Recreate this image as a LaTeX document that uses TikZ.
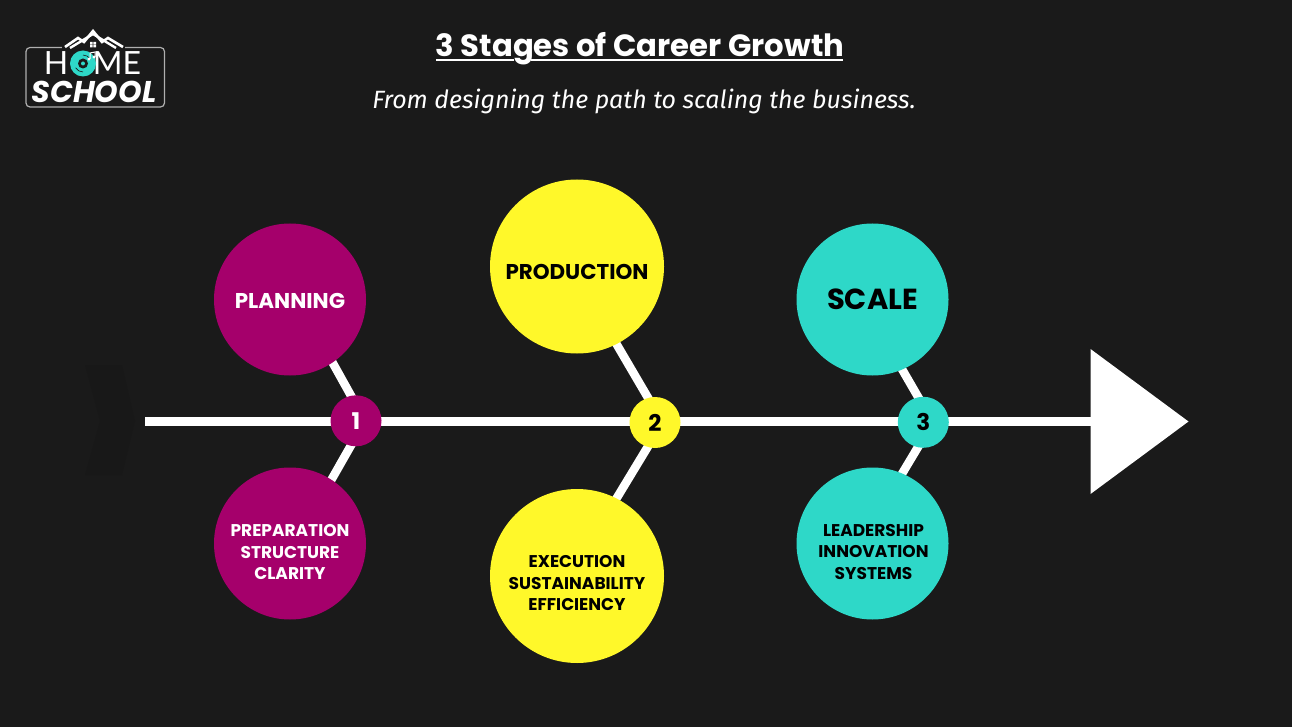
\documentclass[tikz,border=0pt]{standalone}
\usepackage{fontspec}
\setmainfont{Poppins}
\newfontfamily\subfont{Fira Sans}
\newfontfamily\logofont{Lato}
\usetikzlibrary{calc}
\pgfdeclarelayer{back}
\pgfdeclarelayer{links}
\pgfsetlayers{back,links,main}
\definecolor{bgc}{HTML}{1A1A1A}
\definecolor{bgd}{HTML}{181818}
\definecolor{mag}{HTML}{A5006B}
\definecolor{yel}{HTML}{FFF82A}
\definecolor{tea}{HTML}{2ED8C8}
\tikzset{
  bigc/.style={circle,inner sep=0pt,minimum size=#1},
  lab/.style={inner sep=0pt,align=center,font=\fontsize{17}{21.6}\selectfont\bfseries},
  head/.style={inner sep=0pt,font=\fontsize{21.4}{25}\selectfont\bfseries},
  conn/.style={white,line width=8.5pt,shorten <=-5pt},
  numc/.style={circle,inner sep=0pt,minimum size=51pt,font=\fontsize{23}{24}\selectfont\bfseries},
  txt/.style={text=white,inner sep=0pt}
}
\begin{document}
\begin{tikzpicture}[x=1pt,y=-1pt]
\begin{pgfonlayer}{back}
\fill[bgc] (0,0) rectangle (1292,727);
\fill[bgd] (85,365) -- (122,365) -- (135,421) -- (122,475) -- (85,475) -- (100,421) -- cycle;
\end{pgfonlayer}
\useasboundingbox (0,0) rectangle (1292,727);
% titles
\node[txt,font=\fontsize{30.7}{36}\selectfont\bfseries] (title) at (640,49) {3 Stages of Career Growth};
\draw[white,line width=2pt] (436,60) -- (514,60) (531,60) -- (843,60);
\node[txt,font=\subfont\itshape\fontsize{25}{30}\selectfont] (sub) at (644,101.5) {From designing the path to scaling the business.};
% logo
\draw[white!65!bgc,line width=1.2pt,rounded corners=4pt] (26,47.5) rectangle (164.5,107);
\fill[bgc] (62,40) rectangle (125,50);
\draw[white,line width=2.6pt,line join=miter] (65,47) -- (78,38) -- (84,42) -- (93,31) -- (102,42) -- (108,38) -- (123,47);
\draw[white,line width=2.4pt] (70,48) -- (93,34) -- (116,48);
\fill[white] (90,42) rectangle (92.6,44.4) (93.4,42) rectangle (96,44.4) (90,45) rectangle (92.6,47.4) (93.4,45) rectangle (96,47.4);
\node[txt,font=\logofont\fontsize{32}{32}\selectfont,anchor=base] (logoh) at (56,75) {H};
\node[txt,font=\logofont\fontsize{32}{32}\selectfont,anchor=base] (logome) at (117,75) {ME};
\fill[tea] (83,63.5) circle[radius=13pt];
\fill[bgc] (83,63.5) circle[radius=5pt];
\fill[tea] (83,63.5) circle[radius=2pt];
\draw[bgc,line width=.6pt] (83,63.5) ++(-30:8.5) arc[start angle=-30,end angle=-90,radius=8.5];
\draw[bgc,line width=.6pt] (83,63.5) ++(150:8.5) arc[start angle=150,end angle=90,radius=8.5];
\draw[white,line width=1pt] (90,59) -- (90,53) -- (95,52) -- (95,57);
\fill[white] (89,59) circle[radius=1.7pt] (94,57) circle[radius=1.7pt];
\node[txt,font=\fontsize{30}{30}\selectfont\bfseries\itshape,anchor=base] (logos) at (94,103) {SCHOOL};
% circles
\node[bigc=152pt,fill=mag] (p1) at (290,299.5) {};
\node[bigc=152pt,fill=mag] (b1) at (290,543.5) {};
\node[bigc=174pt,fill=yel] (p2) at (577,266.5) {};
\node[bigc=174pt,fill=yel] (b2) at (577,576) {};
\node[bigc=152pt,fill=tea] (p3) at (872.5,299.5) {};
\node[bigc=152pt,fill=tea] (b3) at (872.5,543.5) {};
% labels
\node[head,text=white] (p1t) at (290,301) {PLANNING};
\node[lab,text=white] (b1t) at (290,552) {PREPARATION\\STRUCTURE\\CLARITY};
\node[head,text=black] (p2t) at (577,271.5) {PRODUCTION};
\node[lab,text=black] (b2t) at (577,583) {EXECUTION\\SUSTAINABILITY\\EFFICIENCY};
\node[head,text=black,font=\fontsize{29}{30}\selectfont\bfseries] (p3t) at (872.5,299.5) {SCALE};
\node[lab,text=black] (b3t) at (873.5,552) {LEADERSHIP\\INNOVATION\\SYSTEMS};
\node[numc,fill=mag,text=white] (n1) at (356,420.8) {1};
\node[numc,fill=yel,text=black] (n2) at (655,422.5) {2};
\node[numc,fill=tea,text=black] (n3) at (923.3,422.3) {3};
\coordinate (start) at (145,421.5);
\coordinate (tipbase) at (1091,421.5);
\coordinate (k1) at ($(n1)+(9,0)$);
\coordinate (k2) at ($(n2)+(7.5,0)$);
\coordinate (k3) at ($(n3)+(9.5,0)$);
\begin{pgfonlayer}{links}
\draw[white,line width=8.5pt] (start) -- (tipbase);
\fill[white] (1090.5,349) -- (1188.5,421.5) -- (1090.5,494) -- cycle;
\draw[conn] (p1.-56.5) -- (k1);
\draw[conn] (b1.57) -- (k1);
\draw[conn] (p2.-63) -- (k2);
\draw[conn] (b2.63) -- (k2);
\draw[conn] (p3.-67) -- (k3);
\draw[conn] (b3.67) -- (k3);
\end{pgfonlayer}
\end{tikzpicture}
\end{document}
